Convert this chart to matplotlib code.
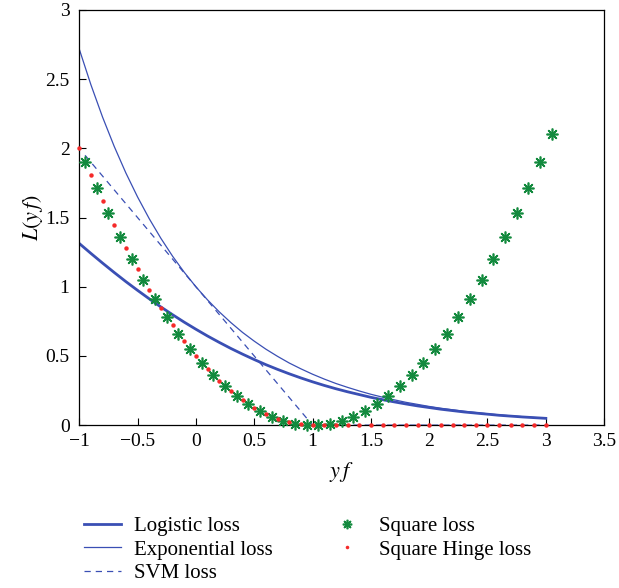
import matplotlib
matplotlib.use("Agg")
import matplotlib.pyplot as plt

plt.rcParams['font.family'] = ['Liberation Serif', 'DejaVu Serif']
plt.rcParams['mathtext.fontset'] = 'stix'

# curves sampled every 0.1 on yf
x_curve = [-1.0, -0.9, -0.8, -0.7, -0.6, -0.5, -0.4, -0.3, -0.2, -0.1, 0.0,
           0.1, 0.2, 0.3, 0.4, 0.5, 0.6, 0.7, 0.8, 0.9, 1.0,
           1.1, 1.2, 1.3, 1.4, 1.5, 1.6, 1.7, 1.8, 1.9, 2.0,
           2.1, 2.2, 2.3, 2.4, 2.5, 2.6, 2.7, 2.8, 2.9, 3.0]
logistic = [1.313, 1.241, 1.171, 1.103, 1.037, 0.974, 0.913, 0.854, 0.798, 0.744, 0.693,
            0.644, 0.598, 0.554, 0.513, 0.474, 0.437, 0.403, 0.371, 0.341, 0.313,
            0.287, 0.263, 0.241, 0.221, 0.201, 0.184, 0.168, 0.153, 0.139, 0.127,
            0.115, 0.105, 0.095, 0.087, 0.079, 0.071, 0.065, 0.059, 0.054, 0.049]
exponential = [2.718, 2.460, 2.226, 2.014, 1.822, 1.649, 1.492, 1.350, 1.221, 1.105, 1.000,
               0.905, 0.819, 0.741, 0.670, 0.607, 0.549, 0.497, 0.449, 0.407, 0.368,
               0.333, 0.301, 0.273, 0.247, 0.223, 0.202, 0.183, 0.165, 0.150, 0.135,
               0.122, 0.111, 0.100, 0.091, 0.082, 0.074, 0.067, 0.061, 0.055, 0.050]
sq_hinge = [2.0, 1.805, 1.62, 1.445, 1.28, 1.125, 0.98, 0.845, 0.72, 0.605, 0.5,
            0.405, 0.32, 0.245, 0.18, 0.125, 0.08, 0.045, 0.02, 0.005, 0.0,
            0, 0, 0, 0, 0, 0, 0, 0, 0, 0,
            0, 0, 0, 0, 0, 0, 0, 0, 0, 0]

svm_x = [-0.95, 1.0, 3.0]
svm_y = [1.95, 0.0, 0.0]

x_square = [-0.95, -0.85, -0.75, -0.65, -0.55, -0.45, -0.35, -0.25, -0.15, -0.05,
            0.05, 0.15, 0.25, 0.35, 0.45, 0.55, 0.65, 0.75, 0.85, 0.95,
            1.05, 1.15, 1.25, 1.35, 1.45, 1.55, 1.65, 1.75, 1.85, 1.95,
            2.05, 2.15, 2.25, 2.35, 2.45, 2.55, 2.65, 2.75, 2.85, 2.95, 3.05]
square = [1.901, 1.711, 1.531, 1.361, 1.201, 1.051, 0.911, 0.781, 0.661, 0.551,
          0.451, 0.361, 0.281, 0.211, 0.151, 0.101, 0.061, 0.031, 0.011, 0.001,
          0.001, 0.011, 0.031, 0.061, 0.101, 0.151, 0.211, 0.281, 0.361, 0.451,
          0.551, 0.661, 0.781, 0.911, 1.051, 1.201, 1.361, 1.531, 1.711, 1.901, 2.101]

blue = '#3a4fb4'
green = '#138a3e'
red = '#f52a2a'

fig = plt.figure(figsize=(6.19, 5.88), dpi=100)
ax = fig.add_axes([0.128, 0.277, 0.848, 0.706])

ax.plot(x_curve, logistic, color=blue, lw=2.0, label='Logistic loss')
ax.plot(x_curve, exponential, color=blue, lw=0.9, label='Exponential loss')
ax.plot(svm_x, svm_y, color=blue, lw=0.9, ls=(0, (5, 4)), label='SVM loss')
ax.plot(x_square, square, ls='none', marker=(8, 2, 0), ms=8.5, mew=1.2,
        color=green, label='Square loss', clip_on=False, zorder=4)
ax.plot(x_curve, sq_hinge, ls='none', marker='o', ms=3.2, color=red, mew=0,
        label='Square Hinge loss', clip_on=False, zorder=5)

ax.set_xlim(-1, 3.5)
ax.set_ylim(0, 3)
ax.set_xticks([-1, -0.5, 0, 0.5, 1, 1.5, 2, 2.5, 3, 3.5])
ax.set_xticklabels(['\u22121', '\u22120.5', '0', '0.5', '1', '1.5', '2', '2.5', '3', '3.5'])
ax.set_yticks([0, 0.5, 1, 1.5, 2, 2.5, 3])
ax.set_yticklabels(['0', '0.5', '1', '1.5', '2', '2.5', '3'])
ax.tick_params(direction='in', labelsize=14, length=5)
ax.tick_params(axis='x', pad=6)
ax.tick_params(axis='y', pad=7)
for s in ax.spines.values():
    s.set_linewidth(0.9)

ax.set_xlabel('$y\\,f$', fontsize=16, labelpad=7)
ax.set_ylabel('$L(y\\,f)$', fontsize=16, labelpad=0)

fig.legend(loc='lower left', bbox_to_anchor=(0.105, -0.024), ncol=2, frameon=False,
           fontsize=15, handlelength=1.8, handletextpad=0.6, columnspacing=2.7,
           labelspacing=0.2, markerscale=0.8)

fig.savefig('out.png', dpi=100)
